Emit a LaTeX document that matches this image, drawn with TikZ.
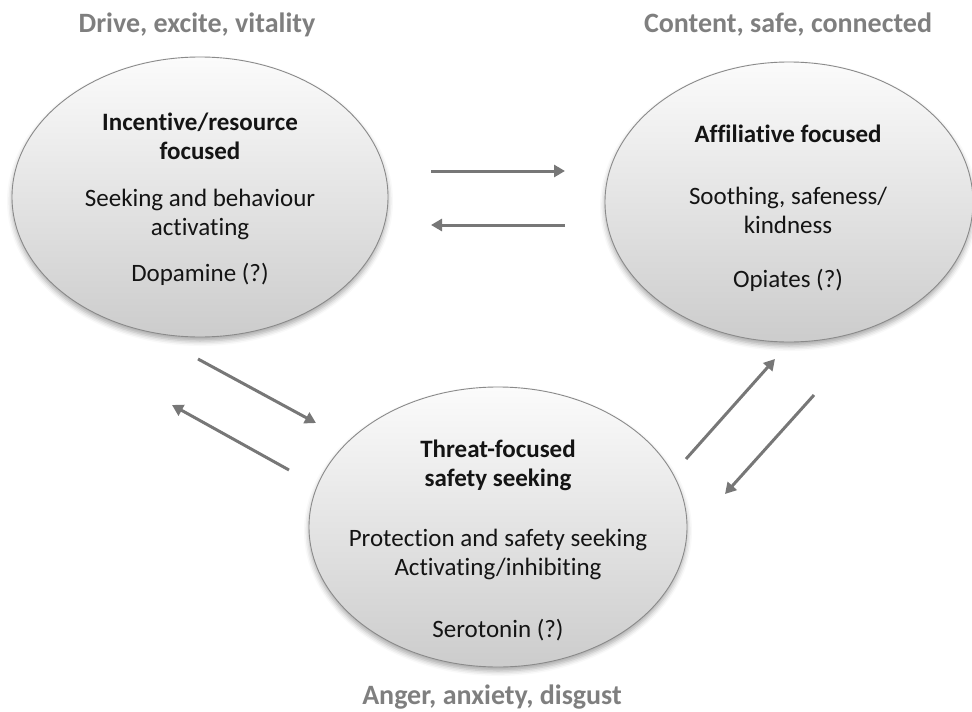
\documentclass[tikz,border=0pt]{standalone}
\usepackage{fontspec}
\setmainfont{Carlito}[Ligatures={NoCommon}]
\usetikzlibrary{shapes.geometric, shadows.blur, arrows.meta}

\definecolor{rim}{HTML}{8A8A8A}
\definecolor{flowgray}{HTML}{777777}
\definecolor{moodgray}{HTML}{7F7F7F}
\definecolor{inkgray}{HTML}{141414}

\tikzset{
  system/.style={ellipse, draw=rim, line width=0.9pt, inner sep=0pt,
    minimum width=376pt, minimum height=280pt,
    top color=gray!3, bottom color=gray!40,
    blur shadow={shadow xshift=0pt, shadow yshift=-4pt,
      shadow opacity=35, shadow blur radius=5pt}},
  body/.style={align=center, inner sep=0pt, text=inkgray,
    font=\fontsize{25}{29}\selectfont},
  mood/.style={inner sep=0pt, text=moodgray,
    font=\fontsize{28}{32}\selectfont\bfseries},
  flow/.style={draw=flowgray, line width=3pt,
    -{Triangle[length=11pt,width=12pt]}},
}

\begin{document}
\begin{tikzpicture}[x=1pt, y=-1pt]
  \useasboundingbox (0,0) rectangle (972,712);

  % the three systems
  \node[system] (drive)  at (200,197) {};
  \node[system, minimum width=368pt] (soothe) at (789,202) {};
  \node[system, minimum width=378pt] (threat) at (498,527) {};

  % texts inside the systems
  \node[body, anchor=base] (drive-t) at (200,281)
    {\textbf{Incentive/resource}\\ \textbf{focused}\\[18pt]
     Seeking and behaviour\\ activating\\[17pt] Dopamine (?)};
  \node[body, anchor=base] (soothe-t) at (788,287)
    {\textbf{Affiliative focused}\\[33pt]
     Soothing, safeness/\\ kindness\\[25pt] Opiates (?)};
  \node[body, anchor=base] (threat-t) at (498,637)
    {\textbf{Threat-focused}\\ \textbf{safety seeking}\\[31pt]
     Protection and safety seeking\\ Activating/inhibiting\\[33pt] Serotonin (?)};

  % emotion labels
  \node[mood, anchor=base] (drive-m)  at (197,32)  {Drive, excite, vitality};
  \node[mood, anchor=base] (soothe-m) at (788,32)  {Content, safe, connected};
  \node[mood, anchor=base] (threat-m) at (492,704) {Anger, anxiety, disgust};

  % end points of the exchange arrows
  \coordinate (ds1) at (431,171);  \coordinate (ds2) at (565,171);
  \coordinate (sd1) at (565,225);  \coordinate (sd2) at (431,225);
  \coordinate (dt1) at (198,359);  \coordinate (dt2) at (316,423);
  \coordinate (td1) at (289,470);  \coordinate (td2) at (172,405);
  \coordinate (ts1) at (686,459);  \coordinate (ts2) at (775,359);
  \coordinate (st1) at (814,395);  \coordinate (st2) at (725,494);

  \draw[flow] (ds1) -- (ds2);
  \draw[flow] (sd1) -- (sd2);
  \draw[flow] (dt1) -- (dt2);
  \draw[flow] (td1) -- (td2);
  \draw[flow] (ts1) -- (ts2);
  \draw[flow] (st1) -- (st2);
\end{tikzpicture}
\end{document}
